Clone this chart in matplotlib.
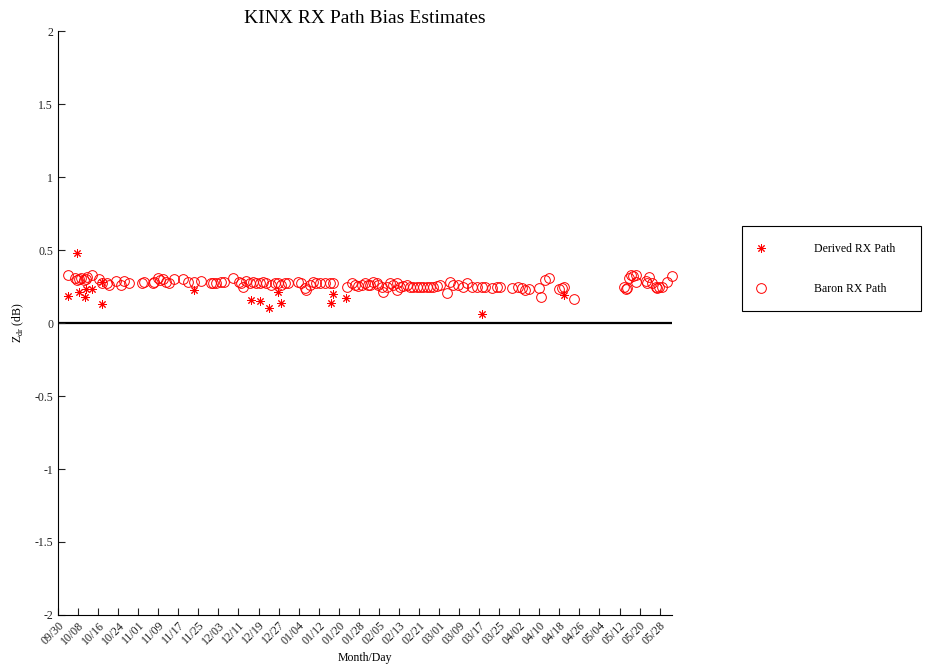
import matplotlib
matplotlib.use("Agg")
import matplotlib.pyplot as plt
from matplotlib.patches import Rectangle

plt.rcParams['font.family'] = ['Liberation Serif', 'DejaVu Serif']

# days since 09/30 and Zdr bias (dB)
derived_day = [4.0, 7.7, 8.5, 10.8, 11.3, 13.5, 17.7, 17.7, 54.4,
               77.0, 80.4, 84.0, 87.7, 89.0, 108.7, 109.7, 114.8,
               169.3, 201.7]
derived_val = [0.185, 0.48, 0.21, 0.176, 0.233, 0.235, 0.128, 0.283, 0.226,
               0.158, 0.153, 0.10, 0.215, 0.14, 0.14, 0.197, 0.17,
               0.062, 0.19]

baron_day = [4.0, 6.7, 7.7, 8.4, 9.3, 10.4, 11.1, 11.5, 13.7, 16.4, 17.7, 19.7,
             20.4, 23.1, 25.1, 26.4, 28.4, 33.7, 34.4, 37.7, 38.4, 39.7, 40.8,
             41.7, 43.1, 44.4, 46.4, 49.7, 51.7, 54.4, 57.1, 61.1,
             61.7, 63.1, 65.1, 66.4, 69.7, 72.1, 73.1, 73.7, 75.1, 76.4, 77.7,
             79.1, 80.4, 81.7, 83.1, 85.1, 86.4, 87.7, 89.1, 90.4, 91.7,
             95.7, 97.1, 98.4, 99.1, 100.4, 101.7, 103.1, 104.4, 106.4, 108.4,
             109.7, 115.1, 117.1, 118.4, 119.7, 121.1, 122.4, 123.7,
             124.4, 125.7, 127.1, 127.7, 129.1, 129.7, 131.1, 132.4, 133.7,
             135.1, 135.1, 136.4, 137.7, 139.1, 140.4, 141.7, 143.1, 144.4,
             145.7, 147.1, 148.4, 149.7, 151.1, 152.4,
             155.0, 156.4, 157.6, 159.6, 161.6, 163.0, 165.0, 167.0, 169.0,
             170.4, 173.0, 175.0, 176.4, 181.0, 183.6, 185.2,
             186.4, 187.7, 191.7, 192.7, 194.4, 195.7, 200.0, 201.0, 202.0, 205.7,
             225.7, 226.4, 227.0, 227.7, 228.4, 229.5, 230.4, 230.4, 234.4,
             235.7, 235.0, 237.0, 238.4, 239.0, 239.7, 241.0, 243.0, 245.0]
baron_val = [0.329, 0.306, 0.295, 0.30, 0.31, 0.295, 0.30, 0.317, 0.329, 0.30, 0.272, 0.272,
             0.26, 0.29, 0.26, 0.29, 0.272, 0.272, 0.283, 0.277, 0.283, 0.306, 0.295,
             0.30, 0.283, 0.272, 0.30, 0.30, 0.283, 0.283, 0.29, 0.272,
             0.272, 0.277, 0.283, 0.283, 0.31, 0.283, 0.272, 0.249, 0.29, 0.277, 0.283,
             0.272, 0.277, 0.283, 0.272, 0.26, 0.272, 0.277, 0.26, 0.272, 0.277,
             0.283, 0.272, 0.238, 0.226, 0.26, 0.283, 0.272, 0.277, 0.272, 0.272,
             0.272, 0.249, 0.272, 0.26, 0.255, 0.26, 0.272, 0.26,
             0.26, 0.283, 0.272, 0.26, 0.249, 0.215, 0.249, 0.272, 0.26,
             0.272, 0.226, 0.249, 0.255, 0.26, 0.249, 0.249, 0.249, 0.249,
             0.249, 0.249, 0.249, 0.249, 0.255, 0.26,
             0.205, 0.283, 0.26, 0.26, 0.249, 0.272, 0.249, 0.249, 0.249,
             0.249, 0.238, 0.249, 0.249, 0.238, 0.249, 0.238,
             0.226, 0.231, 0.238, 0.18, 0.295, 0.306, 0.231, 0.238, 0.249, 0.162,
             0.249, 0.231, 0.238, 0.306, 0.329, 0.322, 0.329, 0.283, 0.29,
             0.317, 0.276, 0.272, 0.249, 0.238, 0.249, 0.249, 0.283, 0.322]

tick_labels = ['09/30', '10/08', '10/16', '10/24', '11/01', '11/09', '11/17', '11/25',
               '12/03', '12/11', '12/19', '12/27', '01/04', '01/12', '01/20', '01/28',
               '02/05', '02/13', '02/21', '03/01', '03/09', '03/17', '03/25', '04/02',
               '04/10', '04/18', '04/26', '05/04', '05/12', '05/20', '05/28']
tick_days = [8 * i for i in range(len(tick_labels))]

fig = plt.figure(figsize=(9.25, 6.7), dpi=100)
ax = fig.add_axes([0.0627, 0.0821, 0.664, 0.8716])

ax.axhline(0, color='black', lw=1.6, zorder=1)
h1, = ax.plot(derived_day, derived_val, ls='none', marker=(8, 2, 0), ms=6,
              mec='red', mew=0.7, clip_on=False)
h2, = ax.plot(baron_day, baron_val, ls='none', marker='o', ms=7,
              mfc='none', mec='red', mew=0.7, clip_on=False)

ax.set_xlim(0, 245)
ax.set_ylim(-2, 2)
ax.set_yticks([-2, -1.5, -1, -0.5, 0, 0.5, 1, 1.5, 2])
ax.set_yticklabels(['-2', '-1.5', '-1', '-0.5', '0', '0.5', '1', '1.5', '2'])
ax.set_xticks(tick_days)
ax.set_xticklabels(tick_labels, rotation=45, ha='right', va='top',
                   rotation_mode='anchor', fontsize=9)
ax.tick_params(direction='in', length=5, width=0.8, labelsize=8.5,
               colors='#222222')
ax.tick_params(axis='x', pad=3)
for s in ['top', 'right']:
    ax.spines[s].set_visible(False)
for s in ['left', 'bottom']:
    ax.spines[s].set_linewidth(0.8)

ax.set_title('KINX RX Path Bias Estimates', fontsize=14, pad=6)
ax.set_xlabel('Month/Day', fontsize=8.5, labelpad=4)
ax.set_ylabel('Z$_{\\mathregular{dr}}$ (dB)', fontsize=8.5, labelpad=6)

fig.patches.append(Rectangle((742 / 925, 1 - 311 / 670), 179 / 925, 85 / 670,
                             transform=fig.transFigure, fill=False,
                             edgecolor='black', lw=0.8))
fig.legend([h1, h2], ['Derived RX Path', 'Baron RX Path'],
           loc='center left', bbox_to_anchor=(749 / 925, 1 - 269 / 670),
           frameon=False, borderpad=0, handlelength=1, handletextpad=4.0,
           labelspacing=2.4, fontsize=8.5)

fig.savefig('out.png', dpi=100)
